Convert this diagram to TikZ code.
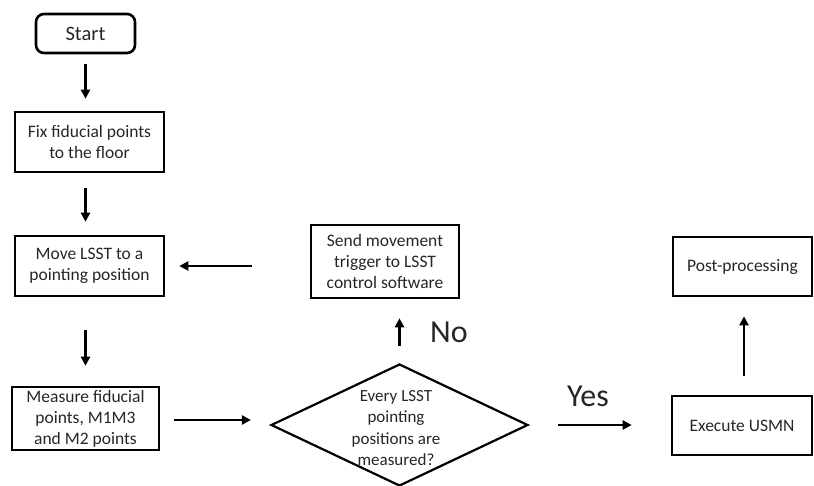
\documentclass[tikz,border=0pt]{standalone}
\usepackage{fontspec}
\setmainfont{Carlito}
\usetikzlibrary{shapes.geometric,arrows.meta,calc}
\begin{document}
\begin{tikzpicture}[x=1pt,y=-1pt,
  box/.style={draw,line width=2.6pt,inner sep=0pt,align=center,font=\fontsize{17.5}{21}\selectfont,text=black!85},
  arr/.style={line width=2.3pt,-{Triangle[length=9pt,width=9pt]}},
  big/.style={font=\fontsize{32}{36}\selectfont,text=black!85,inner sep=0pt}]
\useasboundingbox (0,0) rectangle (814,485);
\node[box,rounded corners=8pt,minimum width=99pt,minimum height=39pt,font=\fontsize{20.5}{24}\selectfont] (start) at (85.5,33.5) {Start};
\node[box,minimum width=149pt,minimum height=60pt] (fix) at (89.5,142) {Fix fiducial points\\to the floor};
\node[box,minimum width=149pt,minimum height=60pt] (move) at (89.5,266) {Move LSST to a\\pointing position};
\node[box,minimum width=147pt,minimum height=63pt] (meas) at (85.5,418.5) {Measure fiducial\\points, M1M3\\and M2 points};
\node[box,minimum width=148pt,minimum height=73pt] (send) at (385,261.5) {Send movement\\trigger to LSST\\control software};
\node[draw,diamond,line width=2.2pt,inner sep=0pt,minimum width=257pt,minimum height=122pt] (dia) at (399.5,425) {};
\node[align=center,font=\fontsize{17}{21.5}\selectfont,text=black!85,inner sep=0pt] (diatext) at (396,428) {Every LSST\\pointing\\positions are\\measured?};
\node[box,minimum width=139pt,minimum height=59pt] (post) at (742.5,266.5) {Post-processing};
\node[box,minimum width=140pt,minimum height=59pt] (exec) at (742,425.5) {Execute USMN};
\node[big] (no) at (449,332) {No};
\node[big] (yes) at (588,396) {Yes};
\draw[arr,shorten <=10pt,shorten >=12pt] (start.south) -- (start.south |- fix.north);
\draw[arr,shorten <=15pt,shorten >=13pt] (fix.south -| start.south) -- (move.north -| start.south);
\draw[arr,shorten <=33pt,shorten >=20pt] (move.south -| start.south) -- (meas.north -| start.south);
\draw[arr,shorten <=58pt,shorten >=14pt] (send.west |- move.east) -- (move.east);
\draw[arr,shorten <=14pt,shorten >=19pt] ($(meas.east)+(0,1.5)$) -- ($(meas.east -| dia.west)+(0,1.5)$);
\draw[arr,shorten <=17pt,shorten >=19pt] (dia.north) -- (dia.north |- send.south);
\draw[arr,shorten <=29pt,shorten >=39pt] (dia.east) -- (dia.east -| exec.west);
\draw[arr,shorten <=19pt,shorten >=19pt] (exec.north -| 744,0) -- (post.south -| 744,0);
\end{tikzpicture}
\end{document}
